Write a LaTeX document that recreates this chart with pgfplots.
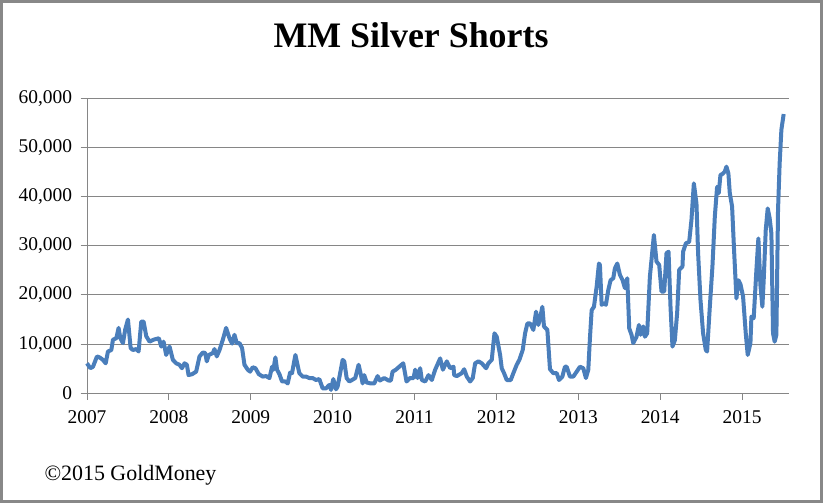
\documentclass[border=0pt]{standalone}
\usepackage{pgfplots}
\pgfplotsset{compat=1.18}
\usepackage{fontspec}
\setmainfont{Liberation Serif}

\definecolor{xlblue}{RGB}{74,126,187}
\definecolor{xlgrid}{RGB}{134,134,134}
\definecolor{xlframe}{RGB}{136,136,136}

\pgfplotstableread{
year value
2007.000 6100
2007.041 5100
2007.073 5400
2007.122 7500
2007.154 7300
2007.195 6800
2007.228 6100
2007.256 8500
2007.297 8800
2007.317 10900
2007.358 11200
2007.386 13300
2007.407 11200
2007.439 10200
2007.467 13000
2007.500 15000
2007.533 9200
2007.561 8800
2007.602 9000
2007.630 8500
2007.663 14600
2007.691 14600
2007.724 11600
2007.764 10500
2007.813 10900
2007.878 11200
2007.907 9500
2007.935 10500
2007.967 7800
2008.008 9500
2008.049 6800
2008.089 6100
2008.130 5800
2008.159 5100
2008.191 6100
2008.220 5800
2008.240 3700
2008.285 3900
2008.333 4400
2008.374 7500
2008.415 8300
2008.443 8200
2008.463 6500
2008.488 7800
2008.537 8200
2008.557 9000
2008.585 7500
2008.618 8800
2008.659 10900
2008.699 13300
2008.740 11200
2008.772 10100
2008.801 11900
2008.829 10200
2008.862 10200
2008.894 9200
2008.923 5800
2008.963 4800
2008.992 4400
2009.024 5300
2009.057 5100
2009.098 3900
2009.146 3400
2009.187 3500
2009.228 3100
2009.260 5400
2009.276 4800
2009.301 7300
2009.321 4800
2009.350 3900
2009.382 2400
2009.423 2400
2009.451 2000
2009.480 4200
2009.504 4100
2009.545 7800
2009.593 4100
2009.634 3400
2009.675 3400
2009.715 3100
2009.756 3100
2009.797 2700
2009.837 2900
2009.878 1000
2009.919 1000
2009.959 1700
2009.980 700
2010.008 2900
2010.041 800
2010.061 1400
2010.122 6800
2010.142 6500
2010.171 3100
2010.203 2400
2010.236 2700
2010.276 3100
2010.317 5800
2010.346 3700
2010.366 2000
2010.386 3700
2010.415 2200
2010.467 2000
2010.508 2000
2010.549 3500
2010.577 2600
2010.630 3100
2010.683 2600
2010.711 2600
2010.732 4400
2010.772 4800
2010.813 5400
2010.862 6100
2010.902 2400
2010.943 3100
2010.988 3100
2011.008 4800
2011.037 3100
2011.069 5100
2011.089 2700
2011.130 2400
2011.171 3700
2011.211 2700
2011.252 4800
2011.313 7100
2011.346 4800
2011.394 6500
2011.435 5100
2011.476 5400
2011.484 3700
2011.516 3500
2011.577 4100
2011.606 4900
2011.638 3400
2011.679 2400
2011.711 3100
2011.740 6100
2011.780 6500
2011.821 6100
2011.874 5100
2011.902 6100
2011.943 6800
2011.976 12200
2012.004 11500
2012.045 7800
2012.065 5100
2012.093 4100
2012.126 2700
2012.175 2700
2012.207 4100
2012.248 5800
2012.280 6800
2012.321 8800
2012.350 12200
2012.378 14200
2012.411 14200
2012.451 12900
2012.484 16600
2012.512 13900
2012.533 15300
2012.561 17600
2012.581 13600
2012.622 12900
2012.654 4900
2012.695 4100
2012.736 4100
2012.764 2700
2012.805 3400
2012.837 5400
2012.858 5400
2012.898 3400
2012.939 3400
2012.980 4400
2013.020 5400
2013.061 5100
2013.093 3100
2013.122 4800
2013.142 11200
2013.163 16900
2013.191 17600
2013.224 21700
2013.252 26400
2013.264 26100
2013.285 18000
2013.313 18300
2013.337 18000
2013.366 21000
2013.394 23000
2013.427 23400
2013.447 25400
2013.476 26400
2013.508 24100
2013.541 23000
2013.569 21400
2013.598 23400
2013.622 13200
2013.650 11900
2013.671 10200
2013.711 11500
2013.740 13900
2013.760 11900
2013.793 13600
2013.813 11500
2013.841 12200
2013.874 23700
2013.923 32200
2013.955 26800
2013.988 26100
2014.016 20700
2014.049 20700
2014.077 28500
2014.102 28800
2014.126 17600
2014.150 9500
2014.179 10800
2014.207 16300
2014.232 25100
2014.272 25800
2014.280 28800
2014.313 30500
2014.354 30800
2014.382 35300
2014.411 42700
2014.443 38600
2014.463 28500
2014.492 19000
2014.524 12200
2014.557 8800
2014.573 8500
2014.606 17600
2014.638 25800
2014.667 35900
2014.695 42000
2014.715 40700
2014.736 44400
2014.760 44600
2014.789 45100
2014.809 46100
2014.833 44700
2014.850 40700
2014.878 38000
2014.902 29200
2014.931 19300
2014.955 23000
2014.980 22200
2015.012 19700
2015.045 12200
2015.069 7800
2015.102 10200
2015.114 15600
2015.142 15300
2015.175 25100
2015.199 31500
2015.224 22000
2015.248 17600
2015.264 23000
2015.289 33200
2015.313 37600
2015.337 35600
2015.358 32500
2015.378 12200
2015.398 10500
2015.419 11900
2015.439 37300
2015.459 46800
2015.480 53600
2015.508 56800
}\shorts

\begin{document}
\begin{tikzpicture}
  % frame of the whole chart, also fixes the page size
  \fill[white] (0,0) rectangle (823bp,503bp);
  \draw[xlframe, line width=2.6bp] (1.3bp,1.3bp) rectangle (821.7bp,501.7bp);

  \node[anchor=base, font=\bfseries\fontsize{36}{40}\selectfont]
    at (411bp,455bp) {MM Silver Shorts};
  \node[anchor=base west, font=\fontsize{22}{25}\selectfont]
    at (41bp,23bp) {\textcopyright 2015 GoldMoney};

  \begin{axis}[
    at={(87bp,109.7bp)}, anchor=south west,
    scale only axis,
    width=702bp, height=295bp,
    xmin=2007, xmax=2015.573,
    ymin=0, ymax=60000,
    xtick={2007,2008,2009,2010,2011,2012,2013,2014,2015},
    xticklabels={2007,2008,2009,2010,2011,2012,2013,2014,2015},
    ytick={0,10000,20000,30000,40000,50000,60000},
    scaled y ticks=false,
    /pgf/number format/.cd, 1000 sep={,}, assume math mode=true,
    /pgfplots/.cd,
    axis x line*=bottom, axis y line*=left,
    axis line style={draw=xlgrid, line width=1bp, -},
    tick align=outside,
    major tick length=6.5bp,
    tick style={draw=xlgrid, line width=1bp},
    ymajorgrids,
    grid style={draw=xlgrid, line width=1bp},
    tick label style={font=\fontsize{19.5}{22}\selectfont, black},
    xticklabel style={yshift=-7bp},
    yticklabel style={xshift=-5bp},
    clip=false,
  ]
    \addplot[xlblue, line width=4bp, line join=round, no marks]
      table[x=year, y=value] {\shorts};
  \end{axis}
\end{tikzpicture}
\end{document}
